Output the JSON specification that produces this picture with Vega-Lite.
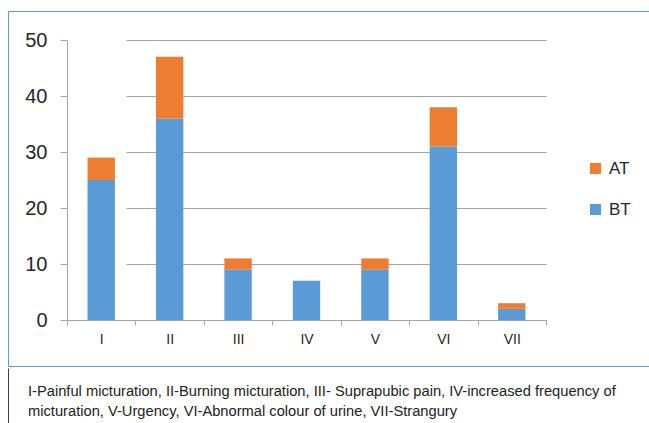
{
  "$schema": "https://vega.github.io/schema/vega-lite/v6.json",
  "padding": {"left": 7, "top": 10, "right": 0, "bottom": 0},
  "background": "white",
  "spacing": 0,
  "config": {"font": "Liberation Sans", "view": {"stroke": null}},
  "vconcat": [
    {
      "width": 660,
      "height": 355,
      "view": {"stroke": "#5B9BD5", "strokeWidth": 1, "strokeDash": [660, 355, 10000]},
      "data": {
        "values": [
          {"cat": "I", "series": "BT", "value": 25},
          {"cat": "I", "series": "AT", "value": 4},
          {"cat": "II", "series": "BT", "value": 36},
          {"cat": "II", "series": "AT", "value": 11},
          {"cat": "III", "series": "BT", "value": 9},
          {"cat": "III", "series": "AT", "value": 2},
          {"cat": "IV", "series": "BT", "value": 7},
          {"cat": "IV", "series": "AT", "value": 0},
          {"cat": "V", "series": "BT", "value": 9},
          {"cat": "V", "series": "AT", "value": 2},
          {"cat": "VI", "series": "BT", "value": 31},
          {"cat": "VI", "series": "AT", "value": 7},
          {"cat": "VII", "series": "BT", "value": 2},
          {"cat": "VII", "series": "AT", "value": 1}
        ]
      },
      "mark": {"type": "bar", "width": {"band": 0.4}},
      "encoding": {
        "x": {
          "field": "cat",
          "type": "nominal",
          "sort": ["I", "II", "III", "IV", "V", "VI", "VII"],
          "scale": {"range": [59, 538], "paddingInner": 0, "paddingOuter": 0},
          "axis": {
            "title": null,
            "orient": "bottom",
            "offset": -46,
            "grid": false,
            "domainColor": "#a6a6a6",
            "tickColor": "#a6a6a6",
            "tickSize": 5,
            "tickBand": "extent",
            "labelAngle": 0,
            "labelFontSize": 14,
            "labelPadding": 7,
            "labelColor": "#262626"
          }
        },
        "y": {
          "field": "value",
          "type": "quantitative",
          "stack": "zero",
          "scale": {"domain": [0, 50], "range": [309, 29], "nice": false},
          "axis": {
            "title": null,
            "offset": -59,
            "values": [0, 10, 20, 30, 40, 50],
            "grid": true,
            "gridColor": "#a6a6a6",
            "gridDash": [0, 59, 479, 10000],
            "domainColor": "#a6a6a6",
            "tickColor": "#a6a6a6",
            "tickSize": 7,
            "labelFontSize": 20,
            "labelPadding": 13,
            "labelColor": "#262626"
          }
        },
        "color": {
          "field": "series",
          "type": "nominal",
          "scale": {"domain": ["AT", "BT"], "range": ["#ED7D31", "#5B9BD5"]},
          "legend": {
            "title": null,
            "orient": "none",
            "legendX": 579,
            "legendY": 149,
            "padding": 0,
            "symbolType": "square",
            "symbolSize": 121,
            "symbolStrokeWidth": 0,
            "labelFontSize": 17,
            "labelOffset": 5,
            "rowPadding": 23,
            "labelColor": "#262626"
          }
        },
        "order": {"field": "series", "sort": "descending"}
      }
    },
    {
      "width": 660,
      "height": 60,
      "view": {"stroke": "#404040", "strokeWidth": 1, "strokeDash": [0, 660, 10000]},
      "data": {"values": []},
      "mark": "rule",
      "encoding": {},
      "title": {
        "text": [
          "I-Painful micturation, II-Burning micturation, III- Suprapubic pain, IV-increased frequency of",
          "micturation, V-Urgency, VI-Abnormal colour of urine, VII-Strangury"
        ],
        "orient": "bottom",
        "anchor": "start",
        "frame": "group",
        "offset": -32,
        "dx": 20,
        "baseline": "alphabetic",
        "font": "Liberation Sans",
        "fontSize": 14.7,
        "fontWeight": "normal",
        "lineHeight": 20,
        "color": "#222222"
      }
    }
  ]
}
